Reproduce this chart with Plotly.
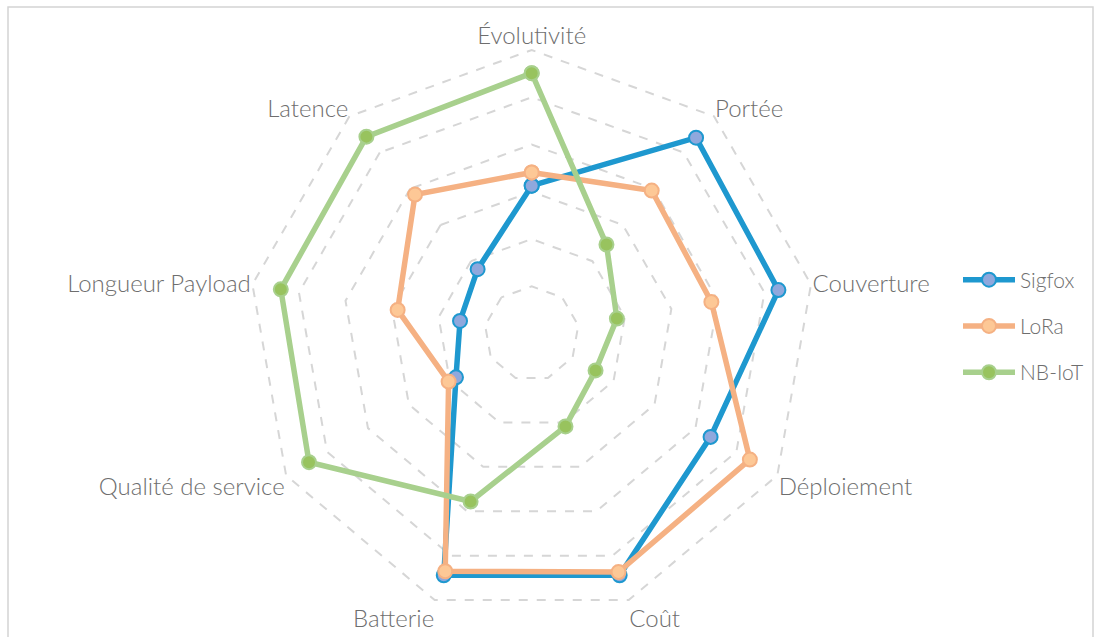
import plotly.graph_objects as go

categories = ["Évolutivité", "Portée", "Couverture", "Déploiement", "Coût",
              "Batterie", "Qualité de service", "Longueur Payload", "Latence"]
sigfox = [3.13, 5.41, 5.30, 4.37, 5.44, 5.44, 1.85, 1.54, 1.78]
lora = [3.41, 3.95, 3.86, 5.33, 5.37, 5.35, 2.03, 2.88, 3.84]
nbiot = [5.51, 2.46, 1.83, 1.56, 2.09, 3.78, 5.44, 5.39, 5.44]
series_names = ["Sigfox", "LoRa", "NB-IoT"]
rmax = 6

W, H = 1097, 637
FONT = "Lato"
TEXT = "#6e6e6e"

styles = [
    dict(line="#1e98cf", fill="#8fa8dd"),
    dict(line="#f5b183", fill="#fdc896"),
    dict(line="#a8d08d", fill="#98c35e"),
]

fig = go.Figure()
for name, vals, st in zip(series_names, [sigfox, lora, nbiot], styles):
    fig.add_trace(go.Scatterpolar(
        r=vals + vals[:1],
        theta=categories + categories[:1],
        mode="lines+markers",
        name=name,
        legendgroup=name,
        line=dict(color=st["line"], width=5.5),
        marker=dict(size=14, color=st["fill"], line=dict(color=st["line"], width=2)),
    ))

ext = 1.004
cx, cy, R = 531.7, 333.6, 283.6 * ext
fig.update_layout(
    width=W, height=H,
    margin=dict(l=0, r=0, t=0, b=0),
    paper_bgcolor="white",
    plot_bgcolor="white",
    font=dict(family=FONT, color=TEXT, size=24, weight=300),
    polar=dict(
        domain=dict(x=[(cx - R) / W, (cx + R) / W], y=[1 - (cy + R) / H, 1 - (cy - R) / H]),
        bgcolor="white",
        gridshape="linear",
        radialaxis=dict(range=[0, rmax * ext], dtick=1, tick0=0, showticklabels=False, ticks="",
                        showline=False, gridcolor="#d6d6d6", griddash="dash", gridwidth=1.5),
        angularaxis=dict(rotation=90, direction="clockwise", showgrid=False, showline=False,
                         ticks="", tickfont=dict(family=FONT, size=24, color=TEXT, weight=300)),
    ),
    legend=dict(x=958 / W, y=1 - 326 / H, xanchor="left", yanchor="middle",
                font=dict(family=FONT, size=21, color=TEXT, weight=300),
                itemwidth=52,
                tracegroupgap=16, bgcolor="rgba(0,0,0,0)"),
    shapes=[dict(type="rect", xref="paper", yref="paper",
                 x0=8 / W, x1=1093 / W, y0=-0.02, y1=1 - 7 / H,
                 line=dict(color="#d4d4d4", width=1.5), fillcolor="rgba(0,0,0,0)", layer="below")],
)

fig.write_html("out.html")
